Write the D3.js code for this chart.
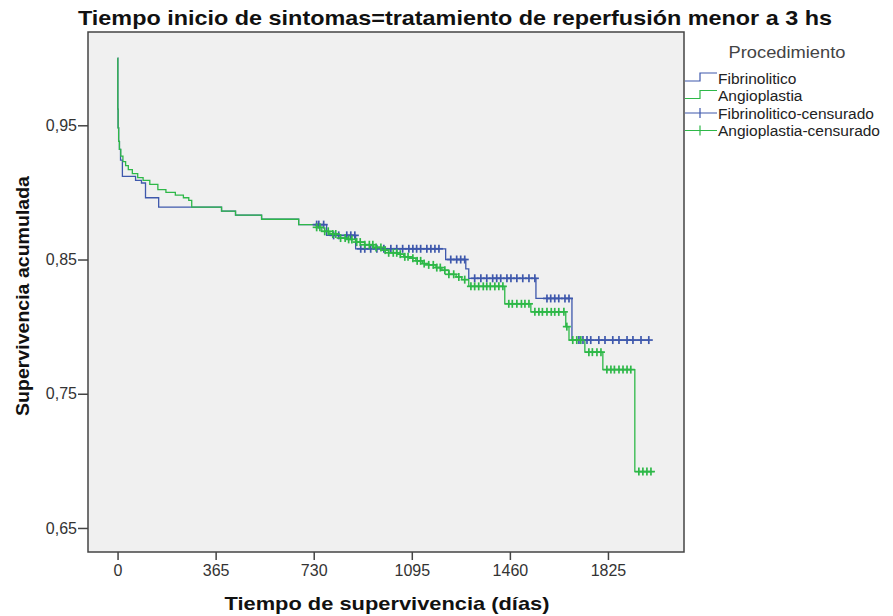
<!DOCTYPE html>
<html>
<head>
<meta charset="utf-8">
<script src="https://cdn.jsdelivr.net/npm/d3@7"></script>
<style>
  body { margin: 0; background: #fff; }
  text { font-family: Arial, "Liberation Sans", sans-serif; }
</style>
</head>
<body>
<svg width="893" height="616"></svg>
<script>
// Kaplan-Meier steps
const fibrinoliticoDias = [0, 1, 2, 4, 7, 11, 18, 67, 89, 104, 153, 387, 439, 536, 674, 778, 886, 1221, 1296, 1307, 1557, 1691, 1977];
const fibrinoliticoSup = [1.0, 0.962, 0.948, 0.938, 0.932, 0.924, 0.912, 0.909, 0.907, 0.896, 0.889, 0.886, 0.883, 0.880, 0.876, 0.868, 0.858, 0.850, 0.843, 0.836, 0.821, 0.790, 0.790];

const angioplastiaDias = [0, 1, 2, 4, 7, 12, 20, 30, 40, 55, 75, 95, 120, 150, 180, 215, 245, 265, 276, 387, 439, 536, 674, 741, 760, 790, 823, 855, 886, 920, 953, 985, 1009, 1040, 1065, 1090, 1110, 1135, 1158, 1185, 1207, 1233, 1260, 1281, 1307, 1441, 1538, 1668, 1680, 1739, 1806, 1925, 1996];
const angioplastiaSup = [1.0, 0.962, 0.948, 0.938, 0.932, 0.927, 0.923, 0.920, 0.917, 0.914, 0.911, 0.909, 0.906, 0.902, 0.900, 0.898, 0.896, 0.894, 0.889, 0.886, 0.883, 0.880, 0.876, 0.874, 0.871, 0.869, 0.866, 0.865, 0.863, 0.861, 0.859, 0.857, 0.855, 0.854, 0.852, 0.851, 0.849, 0.847, 0.846, 0.844, 0.842, 0.839, 0.837, 0.835, 0.830, 0.817, 0.811, 0.800, 0.790, 0.781, 0.768, 0.692, 0.692];

// censored cases (days)
const fibrinoliticoCens = [741, 749, 767, 804, 823, 853, 868, 883, 905, 920, 942, 965, 991, 1017, 1039, 1061, 1084, 1099, 1113, 1128, 1151, 1166, 1181, 1196, 1240, 1262, 1277, 1292, 1329, 1352, 1374, 1396, 1411, 1426, 1449, 1464, 1486, 1508, 1531, 1553, 1598, 1612, 1627, 1642, 1665, 1680, 1717, 1732, 1747, 1761, 1791, 1814, 1843, 1866, 1896, 1918, 1948, 1977];
const angioplastiaCens = [741, 753, 771, 784, 801, 812, 830, 847, 860, 872, 890, 903, 920, 937, 950, 962, 980, 996, 1009, 1026, 1039, 1052, 1069, 1081, 1099, 1115, 1128, 1141, 1158, 1175, 1188, 1201, 1218, 1233, 1251, 1270, 1292, 1315, 1329, 1344, 1361, 1374, 1387, 1404, 1419, 1434, 1456, 1469, 1486, 1503, 1516, 1531, 1553, 1568, 1581, 1598, 1614, 1627, 1642, 1661, 1672, 1694, 1709, 1724, 1754, 1767, 1784, 1799, 1821, 1836, 1849, 1866, 1881, 1896, 1910, 1940, 1955, 1970, 1985];

const xTicks = [0, 365, 730, 1095, 1460, 1825];
const yTicks = [0.65, 0.75, 0.85, 0.95];
const grupos = ['Fibrinolitico', 'Angioplastia'];
const colores = ['#3e58ac', '#2eb848'];

const svg = d3.select('svg');
const plot = {left: 88, right: 684, top: 32, bottom: 552};

const x = d3.scaleLinear().domain([-110, 2108]).range([plot.left, plot.right]);
const y = d3.scaleLinear().domain([0.6321, 1.0195]).range([plot.bottom, plot.top]);

svg.append('rect')
  .attr('x', plot.left).attr('y', plot.top)
  .attr('width', plot.right - plot.left).attr('height', plot.bottom - plot.top)
  .style('fill', '#f0f0f0');

// axes
const fmt = d => d3.format('.2f')(d).replace('.', ',');
const yAxis = svg.append('g')
  .attr('transform', `translate(${plot.left},0)`)
  .call(d3.axisLeft(y).tickValues(yTicks).tickFormat(fmt).tickSize(10).tickPadding(1));
const xAxis = svg.append('g')
  .attr('transform', `translate(0,${plot.bottom})`)
  .call(d3.axisBottom(x).tickValues(xTicks).tickFormat(d3.format('d')).tickSize(8).tickPadding(5));
[xAxis, yAxis].forEach(a => {
  a.select('.domain').remove();
  a.selectAll('line').style('stroke', '#444').style('stroke-width', 1.5);
  a.selectAll('text').style('font-size', '16px').style('fill', '#333')
    .style('font-family', 'Arial, "Liberation Sans", sans-serif');
});

const series = [
  {dias: fibrinoliticoDias, sup: fibrinoliticoSup, cens: fibrinoliticoCens},
  {dias: angioplastiaDias, sup: angioplastiaSup, cens: angioplastiaCens}
];

const line = d3.line()
  .x(d => x(d[0])).y(d => y(d[1]))
  .curve(d3.curveStepAfter);

const supEn = (s, t) => {
  const i = d3.bisectRight(s.dias, t) - 1;
  return s.sup[Math.max(0, i)];
};

series.forEach((s, k) => {
  svg.append('path')
    .datum(s.dias.map((d, i) => [d, s.sup[i]]))
    .attr('d', line)
    .style('fill', 'none')
    .style('stroke', colores[k])
    .style('stroke-width', 1.3);
});

series.forEach((s, k) => {
  const g = svg.append('g').style('stroke', colores[k]).style('stroke-width', 1.7);
  s.cens.forEach(t => {
    const cx = x(t), cy = y(supEn(s, t));
    g.append('line').attr('x1', cx - 4).attr('x2', cx + 4).attr('y1', cy).attr('y2', cy);
    g.append('line').attr('x1', cx).attr('x2', cx).attr('y1', cy - 4).attr('y2', cy + 4);
  });
});

// frame
svg.append('rect')
  .attr('x', plot.left).attr('y', plot.top)
  .attr('width', plot.right - plot.left).attr('height', plot.bottom - plot.top)
  .style('fill', 'none').style('stroke', '#444').style('stroke-width', 1.5);

// titles
svg.append('text')
  .attr('x', 455).attr('y', 25)
  .attr('text-anchor', 'middle')
  .attr('textLength', 754).attr('lengthAdjust', 'spacingAndGlyphs')
  .style('font-size', '21px').style('font-weight', 'bold').style('fill', '#111')
  .text('Tiempo inicio de sintomas=tratamiento de reperfusión menor a 3 hs');

svg.append('text')
  .attr('x', 387).attr('y', 610)
  .attr('text-anchor', 'middle')
  .attr('textLength', 325).attr('lengthAdjust', 'spacingAndGlyphs')
  .style('font-size', '19px').style('font-weight', 'bold').style('fill', '#111')
  .text('Tiempo de supervivencia (días)');

svg.append('text')
  .attr('transform', 'translate(29,296) rotate(-90)')
  .attr('text-anchor', 'middle')
  .attr('textLength', 240).attr('lengthAdjust', 'spacingAndGlyphs')
  .style('font-size', '18px').style('font-weight', 'bold').style('fill', '#111')
  .text('Supervivencia acumulada');

// legend
const leg = svg.append('g');
leg.append('text')
  .attr('x', 787).attr('y', 58)
  .attr('text-anchor', 'middle')
  .attr('textLength', 117).attr('lengthAdjust', 'spacingAndGlyphs')
  .style('font-size', '17px').style('fill', '#444')
  .text('Procedimiento');

const items = [
  {label: grupos[0], color: colores[0], tipo: 'paso'},
  {label: grupos[1], color: colores[1], tipo: 'paso'},
  {label: grupos[0] + '-censurado', color: colores[0], tipo: 'cens'},
  {label: grupos[1] + '-censurado', color: colores[1], tipo: 'cens'}
];
const legY = [78, 95.5, 113, 130.5];
items.forEach((it, i) => {
  const cy = legY[i];
  if (it.tipo === 'paso') {
    leg.append('path')
      .attr('d', `M685,${cy + 3}H700V${cy - 5}H717`)
      .style('fill', 'none').style('stroke', it.color).style('stroke-width', 1.2);
  } else {
    leg.append('path')
      .attr('d', `M685,${cy}H717M700,${cy - 5}V${cy + 5}`)
      .style('fill', 'none').style('stroke', it.color).style('stroke-width', 1.2);
  }
  leg.append('text')
    .attr('x', 718).attr('y', cy + 5.5)
    .style('font-size', '15.5px').style('fill', '#222')
    .text(it.label);
});
</script>
</body>
</html>
